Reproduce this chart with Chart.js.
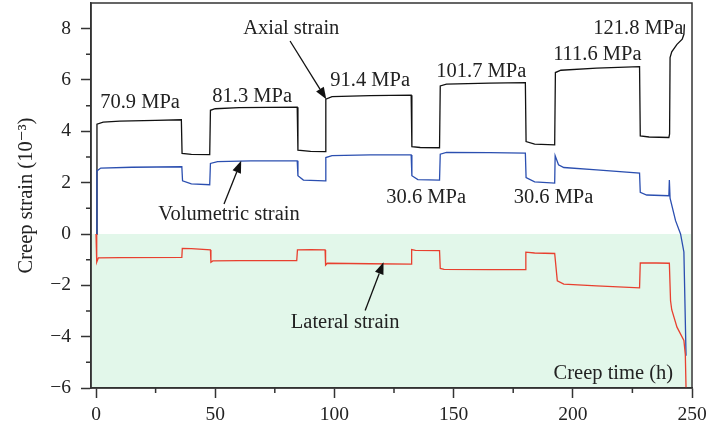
<!DOCTYPE html>
<html lang="en">
<head>
<meta charset="utf-8">
<title>Creep strain</title>
<script src="https://cdn.jsdelivr.net/npm/chart.js@4.4.1/dist/chart.umd.min.js"></script>
<style>
  html, body { margin: 0; padding: 0; background: #fff; }
  #wrap { width: 706px; height: 430px; }
</style>
</head>
<body>
<div id="wrap"><canvas id="creepChart"></canvas></div>
<script>
// creep time (h) and strain (10^-3)
const axialTime = [0, 0.4, 3, 10, 25, 35.8, 36.1, 40, 47.7, 48.0, 50, 60, 84.4, 84.7, 90, 96.1, 96.4, 99, 115, 132.2,
  132.5, 136, 144.1, 144.4, 147, 165, 180.1, 180.4, 184, 192.4, 192.7, 195, 210, 228, 228.3, 232, 240.3, 240.6,
  240.8, 241.5, 243.7, 245.9, 246.6, 246.8];
const axialStrain = [0, 4.28, 4.36, 4.40, 4.43, 4.45, 3.14, 3.10, 3.09, 4.82, 4.88, 4.92, 4.94, 3.27, 3.22, 3.21, 5.25, 5.35, 5.39, 5.41,
  3.40, 3.37, 3.36, 5.77, 5.84, 5.88, 5.90, 3.60, 3.50, 3.47, 6.29, 6.38, 6.46, 6.52, 3.82, 3.78, 3.76, 3.9,
  6.87, 7.1, 7.39, 7.59, 7.78, 8.17];

const volTime = [0, 0.4, 2, 15, 36.0, 36.3, 40, 47.7, 48.0, 51, 65, 84.4, 84.7, 87, 96.1, 96.4, 99, 115, 132.2,
  132.5, 135, 144.1, 144.4, 147, 165, 180.1, 180.4, 184, 192.4, 192.6, 194, 196.2, 210, 228, 228.3, 231, 240.3,
  240.5, 240.8, 243.1, 245.2, 246.6, 247.0, 247.5];
const volStrain = [0, 2.46, 2.57, 2.60, 2.62, 2.07, 1.95, 1.92, 2.75, 2.82, 2.85, 2.85, 2.27, 2.10, 2.07, 2.98, 3.05, 3.08, 3.08,
  2.27, 2.12, 2.10, 3.11, 3.18, 3.17, 3.15, 2.20, 2.03, 1.98, 3.05, 2.70, 2.59, 2.50, 2.37, 1.62, 1.52, 1.49,
  2.10, 1.40, 0.52, 0.0, -0.70, -2.5, -4.74];

const latTime = [0, 0.3, 1, 10, 36.0, 36.2, 40, 48.0, 48.2, 49, 60, 84.2, 84.5, 90, 96.1, 96.3, 97, 115, 132.2,
  132.4, 134, 144.1, 144.4, 146, 165, 180.1, 180.3, 184, 192.4, 193.5, 196.2, 210, 228, 228.3, 235, 240.5,
  241.0, 241.5, 243.7, 246.6, 247.2, 247.5];
const latStrain = [0, -1.10, -0.93, -0.92, -0.91, -0.56, -0.57, -0.62, -1.10, -1.05, -1.04, -1.04, -0.62, -0.61, -0.62, -1.21, -1.14, -1.16, -1.17,
  -0.61, -0.64, -0.65, -1.34, -1.38, -1.39, -1.39, -0.71, -0.74, -0.76, -1.82, -1.95, -2.02, -2.10, -1.13, -1.13, -1.14,
  -2.6, -2.95, -3.63, -4.15, -4.7, -6.0];

const xTicks = [0, 50, 100, 150, 200, 250];
const xMinorTicks = [25, 75, 125, 175, 225];
const yTicks = [-6, -4, -2, 0, 2, 4, 6, 8];
const yMinorTicks = [-5, -3, -1, 1, 3, 5, 7];

// green band below zero strain
const shadeFrom = 0;
const shadeTo = -6;

// text labels: [text, time, strain]
const labels = [
  ["70.9 MPa", 18.5, 5.11],
  ["81.3 MPa", 65.5, 5.34],
  ["Axial strain", 81.9, 7.99],
  ["91.4 MPa", 115, 5.96],
  ["101.7 MPa", 161.6, 6.31],
  ["111.6 MPa", 210.3, 7.0],
  ["121.8 MPa", 227.5, 8.02],
  ["Volumetric strain", 55.8, 0.75],
  ["30.6 MPa", 138.5, 1.41],
  ["30.6 MPa", 191.9, 1.41],
  ["Lateral strain", 104.5, -3.45],
  ["Creep time (h)", 217, -5.44]
];

// arrows: [fromTime, fromStrain, toTime, toStrain]
const arrows = [
  [81.4, 7.52, 96.6, 5.25],
  [53.7, 1.17, 60.9, 2.85],
  [112.9, -2.98, 120.6, -1.10]
];

const serif = "'Liberation Serif', 'DejaVu Serif', serif";
const ink = "#222";

function toPoints(xs, ys) {
  return xs.map((t, i) => ({x: t, y: ys[i]}));
}

const decorPlugin = {
  id: "decor",
  beforeDraw(chart) {
    const {ctx, chartArea: a, scales: {y}} = chart;
    const y0 = y.getPixelForValue(shadeFrom);
    const y1 = y.getPixelForValue(shadeTo);
    ctx.save();
    ctx.fillStyle = "#e2f7ea";
    ctx.fillRect(a.left + 1, y0, a.right - a.left - 2, y1 - y0 - 1);
    ctx.restore();
  },
  afterDraw(chart) {
    const {ctx, chartArea: a, scales: {x, y}} = chart;
    ctx.save();
    // frame
    ctx.strokeStyle = "#333";
    ctx.lineWidth = 1.5;
    ctx.strokeRect(a.left, a.top, a.right - a.left, a.bottom - a.top);
    // minor ticks
    ctx.beginPath();
    xMinorTicks.forEach(v => {
      const px = x.getPixelForValue(v);
      ctx.moveTo(px, a.bottom);
      ctx.lineTo(px, a.bottom + 5);
    });
    yMinorTicks.forEach(v => {
      const py = y.getPixelForValue(v);
      ctx.moveTo(a.left, py);
      ctx.lineTo(a.left - 5, py);
    });
    ctx.stroke();

    // labels
    ctx.fillStyle = ink;
    ctx.font = "20.5px " + serif;
    ctx.textAlign = "center";
    ctx.textBaseline = "middle";
    labels.forEach(([text, t, s]) => {
      ctx.fillText(text, x.getPixelForValue(t), y.getPixelForValue(s));
    });

    // arrows
    ctx.strokeStyle = "#111";
    ctx.fillStyle = "#111";
    ctx.lineWidth = 1.3;
    arrows.forEach(([t0, s0, t1, s1]) => {
      const x0 = x.getPixelForValue(t0), y0 = y.getPixelForValue(s0);
      const x1 = x.getPixelForValue(t1), y1 = y.getPixelForValue(s1);
      const ang = Math.atan2(y1 - y0, x1 - x0);
      const len = 12, half = 4.5;
      const bx = x1 - len * Math.cos(ang), by = y1 - len * Math.sin(ang);
      ctx.beginPath();
      ctx.moveTo(x0, y0);
      ctx.lineTo(bx, by);
      ctx.stroke();
      ctx.beginPath();
      ctx.moveTo(x1, y1);
      ctx.lineTo(bx + half * Math.sin(ang), by - half * Math.cos(ang));
      ctx.lineTo(bx - half * Math.sin(ang), by + half * Math.cos(ang));
      ctx.closePath();
      ctx.fill();
    });
    ctx.restore();
  }
};

const lineStyle = {showLine: true, pointRadius: 0, borderWidth: 1.3, tension: 0, fill: false};

new Chart(document.getElementById("creepChart"), {
  type: "scatter",
  data: {
    datasets: [
      {label: "Lateral strain", data: toPoints(latTime, latStrain), borderColor: "#e8402f", ...lineStyle},
      {label: "Volumetric strain", data: toPoints(volTime, volStrain), borderColor: "#2b4fb0", ...lineStyle},
      {label: "Axial strain", data: toPoints(axialTime, axialStrain), borderColor: "#111", ...lineStyle}
    ]
  },
  options: {
    responsive: true,
    maintainAspectRatio: false,
    animation: false,
    layout: {padding: {top: 3, right: 14, left: 0, bottom: 0}},
    plugins: {legend: {display: false}, tooltip: {enabled: false}},
    scales: {
      x: {
        type: "linear",
        min: -2.1,
        max: 250,
        afterBuildTicks: s => { s.ticks = xTicks.map(v => ({value: v})); },
        afterFit: s => { s.height = 42; s.paddingLeft = 0; s.paddingRight = 0; },
        grid: {drawOnChartArea: false, tickLength: 10, tickColor: "#333", tickWidth: 1.5},
        border: {color: "#333", width: 1.5},
        ticks: {color: ink, font: {family: serif, size: 19.5}, padding: 5, maxRotation: 0, autoSkip: false}
      },
      y: {
        type: "linear",
        min: -6,
        max: 9,
        afterBuildTicks: s => { s.ticks = yTicks.map(v => ({value: v})); },
        afterFit: s => { s.width = 91; s.paddingTop = 0; s.paddingBottom = 0; },
        grid: {drawOnChartArea: false, tickLength: 10, tickColor: "#333", tickWidth: 1.5},
        border: {color: "#333", width: 1.5},
        ticks: {
          color: ink, font: {family: serif, size: 19.5}, padding: 10, autoSkip: false,
          callback: v => String(v).replace("-", "\u2212")
        },
        title: {
          display: true,
          text: "Creep strain (10\u207B\u00B3)",
          color: ink,
          font: {family: serif, size: 20.5},
          padding: {top: 14, bottom: 0}
        }
      }
    }
  },
  plugins: [decorPlugin]
});
</script>
</body>
</html>
